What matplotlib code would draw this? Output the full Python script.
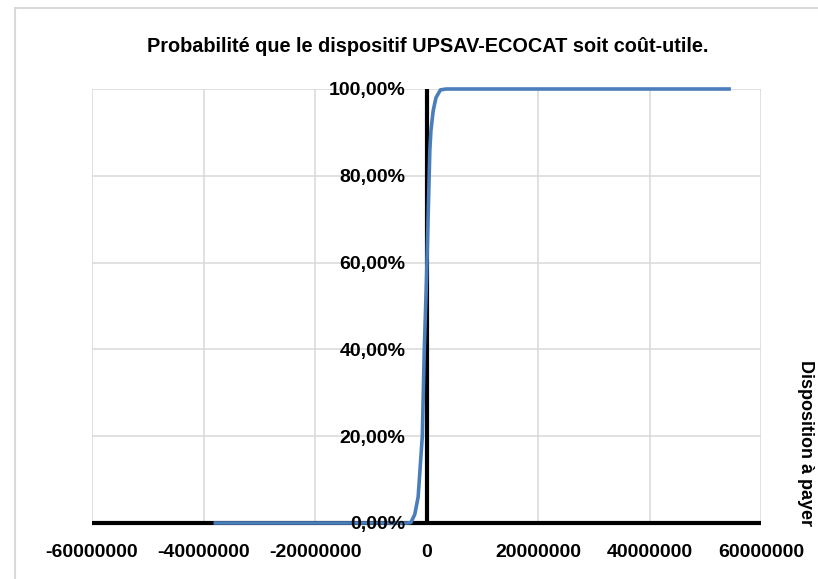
import matplotlib
matplotlib.use("Agg")
import matplotlib.pyplot as plt
from matplotlib.patches import Rectangle
from matplotlib.ticker import FuncFormatter

plt.rcParams['font.family'] = ['Liberation Sans', 'DejaVu Sans']
plt.rcParams['font.weight'] = 'bold'

# Data
wtp = [-38.2e6, -10e6, -3.5e6, -2.8e6, -2.1e6, -1.5e6, -0.75e6, -0.4e6, 0,
       0.6e6, 0.8e6, 1.2e6, 1.7e6, 2.5e6, 3.5e6, 10e6, 54.6e6]
prob = [0, 0, 0, 0.001, 0.02, 0.06, 0.20, 0.40, 0.56,
        0.86, 0.905, 0.95, 0.98, 0.998, 1, 1, 1]
x_ticks = [-60000000, -40000000, -20000000, 0, 20000000, 40000000, 60000000]
y_ticks = [0, 0.2, 0.4, 0.6, 0.8, 1.0]
title = "Probabilité que le dispositif UPSAV-ECOCAT soit coût-utile."
side_label = "Disposition à payer"

W, H = 818, 579
fig = plt.figure(figsize=(W / 100, H / 100), dpi=100)
ax = fig.add_axes([92 / W, 1 - 523 / H, (761 - 92) / W, (523 - 89) / H])

# chart border
fig.patches.append(Rectangle((15 / W, -0.2), 2, 1.2 - 8 / H, transform=fig.transFigure,
                             fill=False, edgecolor='#d9d9d9', lw=1.5))

ax.set_xlim(-60e6, 60e6)
ax.set_ylim(0, 1)
ax.set_xticks(x_ticks)
ax.set_yticks(y_ticks)
ax.xaxis.set_major_formatter(FuncFormatter(lambda v, p: f"{int(round(v))}"))
ax.yaxis.set_major_formatter(FuncFormatter(lambda v, p: f"{v*100:.2f}%".replace('.', ',')))

ax.grid(axis='x', color='#d9d9d9', lw=1.1, zorder=0)
for yv in y_ticks:
    ax.axhline(yv, color='#d9d9d9', lw=1.1, zorder=0)

for s in ['top', 'right']:
    ax.spines[s].set_visible(False)
ax.spines['left'].set_position(('data', 0))
for s in ['left', 'bottom']:
    ax.spines[s].set_linewidth(3)
    ax.spines[s].set_color('black')
    ax.spines[s].set_capstyle('butt')
    ax.spines[s].set_zorder(2.5)

ax.plot(wtp, prob, color='#4a7ebb', lw=2.6, zorder=3, solid_capstyle='butt',
        solid_joinstyle='round', clip_on=False)

ax.yaxis.set_zorder(4)
ax.tick_params(axis='both', length=0, labelsize=14)
ax.tick_params(axis='y', pad=15)
ax.tick_params(axis='x', pad=15)
for lab in ax.get_xticklabels() + ax.get_yticklabels():
    lab.set_fontweight('bold')

fig.text(428 / W, 1 - 47 / H, title, ha='center', va='center', fontsize=14.3, fontweight='bold')
fig.text(797 / W, 1 - 443 / H, side_label, rotation=-90, ha='left', va='center',
         fontsize=13, fontweight='bold')

fig.savefig("out.png", dpi=100)
